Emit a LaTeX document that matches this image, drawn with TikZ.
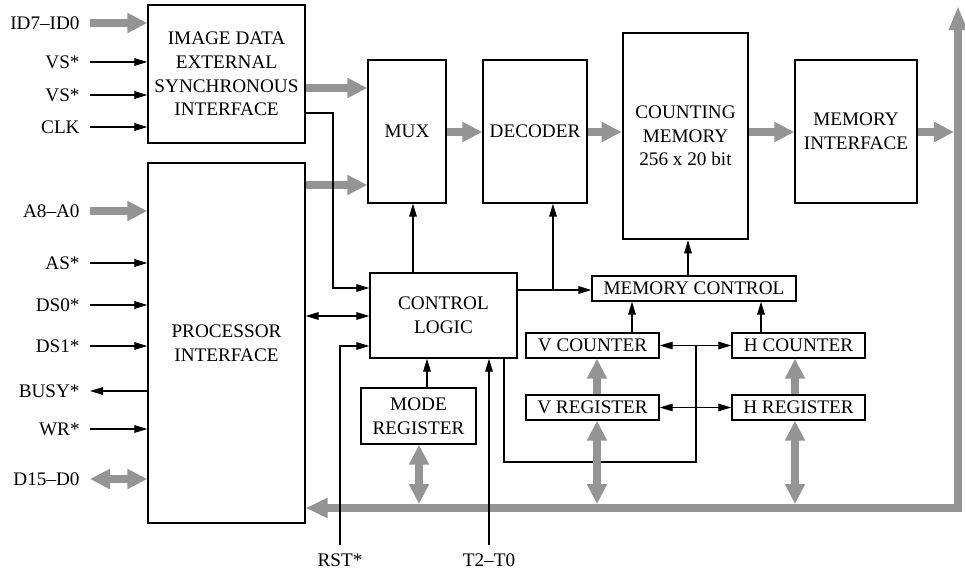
\documentclass[tikz,border=0pt]{standalone}
\usepackage{fontspec}
\setmainfont{Liberation Serif}
\usetikzlibrary{arrows.meta}
\definecolor{busgray}{gray}{0.58}
\begin{document}
\begin{tikzpicture}[x=0.5pt,y=-0.5pt,
  every node/.style={font=\fontsize{9.6}{11.8}\selectfont},
  blk/.style={draw, line width=0.7pt, inner sep=0pt, align=center},
  wire/.style={line width=0.6pt},
  arr/.style={wire,-{Triangle[length=6.5pt,width=3.8pt]}},
  darr/.style={wire,{Triangle[length=6.5pt,width=3.8pt]}-{Triangle[length=6.5pt,width=3.8pt]}},
  gbus/.style={draw=busgray, line width=4pt},
  garr/.style={gbus,-{Triangle[length=10pt,width=9.5pt]}},
  gdarr/.style={gbus,{Triangle[length=10pt,width=9.5pt]}-{Triangle[length=10pt,width=9.5pt]}},
  lbl/.style={anchor=east, inner sep=0pt},
  blbl/.style={anchor=north, inner sep=0pt},
]
\useasboundingbox (0,0) rectangle (965,578);

% blocks
\node[blk, minimum width=78.5pt, minimum height=69pt] (imgif) at (226.5,74) {IMAGE DATA\\EXTERNAL\\SYNCHRONOUS\\INTERFACE};
\node[blk, minimum width=78.5pt, minimum height=180pt] (procif) at (226.5,343) {PROCESSOR\\INTERFACE};
\node[blk, minimum width=39pt, minimum height=71.5pt] (mux) at (407,131.5) {MUX};
\node[blk, minimum width=52pt, minimum height=71.5pt] (dec) at (535,131.5) {DECODER};
\node[blk, line width=1.3pt, minimum width=62.5pt, minimum height=103pt] (cmem) at (685.5,136) {COUNTING\\MEMORY\\256 x 20 bit};
\node[blk, minimum width=61pt, minimum height=71.5pt] (memif) at (856,131.5) {MEMORY\\INTERFACE};
\node[blk, minimum width=73.5pt, minimum height=42.5pt] (ctrl) at (443.5,315.5) {CONTROL\\LOGIC};
\node[blk, minimum width=57.5pt, minimum height=28pt] (mode) at (418.5,416) {MODE\\REGISTER};
\node[blk, minimum width=102pt, minimum height=12.5pt] (memctl) at (694,288.5) {MEMORY CONTROL};
\node[blk, minimum width=66.5pt, minimum height=12.5pt] (vcnt) at (592.5,345.5) {V COUNTER};
\node[blk, minimum width=66.5pt, minimum height=12.5pt] (vreg) at (592.5,407.5) {V REGISTER};
\node[blk, minimum width=66.5pt, minimum height=12.5pt] (hcnt) at (798.5,345.5) {H COUNTER};
\node[blk, minimum width=66.5pt, minimum height=12.5pt] (hreg) at (798.5,407.5) {H REGISTER};

% helper coordinates
\coordinate (y88) at (0,88);
\coordinate (y113) at (0,113);
\coordinate (y132) at (0,132);
\coordinate (y185) at (0,185);
\coordinate (y288) at (0,288);
\coordinate (y290) at (0,290);
\coordinate (y316) at (0,316);
\coordinate (y346) at (0,346);
\coordinate (y462) at (0,462);
\coordinate (ybt) at (0,504);
\coordinate (x333) at (333,0);
\coordinate (x413) at (413,0);
\coordinate (x419) at (419,0);
\coordinate (x427) at (427,0);
\coordinate (x504) at (504,0);
\coordinate (x553) at (553,0);
\coordinate (xv) at (597,0);
\coordinate (x632) at (632,0);
\coordinate (x688) at (688,0);
\coordinate (x696) at (696,0);
\coordinate (x761) at (761,0);
\coordinate (xh) at (795,0);
\coordinate (x954) at (954,0);
\coordinate (bt) at (958,6);
\coordinate (bc) at (958,508);

% left labels
\node[lbl] (id) at (80,23) {ID7–ID0};
\node[lbl] (vs1) at (80,62) {VS*};
\node[lbl] (vs2) at (80,95) {VS*};
\node[lbl] (clk) at (80,127) {CLK};
\node[lbl] (addr) at (80,211) {A8–A0};
\node[lbl] (as) at (80,263) {AS*};
\node[lbl] (ds0) at (80,305) {DS0*};
\node[lbl] (ds1) at (80,346) {DS1*};
\node[lbl] (busy) at (80,391) {BUSY*};
\node[lbl] (wr) at (80,429) {WR*};
\node[lbl] (dat) at (80,479) {D15–D0};
\node[blbl] (rst) at (340,553) {RST*};
\node[blbl] (tt) at (489,553) {T2–T0};

% bus
\draw[gbus, line join=miter, {Triangle[length=11pt,width=9.5pt]}-{Triangle[length=12pt,width=8.5pt]}] (procif.east |- bc) -- (bc) -- (bt);

% left signals
\draw[garr] ([xshift=5pt]id.east) -- (id.east -| imgif.west);
\draw[arr] ([xshift=5pt]vs1.east) -- (vs1.east -| imgif.west);
\draw[arr] ([xshift=5pt]vs2.east) -- (vs2.east -| imgif.west);
\draw[arr] ([xshift=5pt]clk.east) -- (clk.east -| imgif.west);
\draw[garr] ([xshift=5pt]addr.east) -- (addr.east -| procif.west);
\draw[arr] ([xshift=5pt]as.east) -- (as.east -| procif.west);
\draw[arr] ([xshift=5pt]ds0.east) -- (ds0.east -| procif.west);
\draw[arr] ([xshift=5pt]ds1.east) -- (ds1.east -| procif.west);
\draw[arr] (busy.east -| procif.west) -- ([xshift=5pt]busy.east);
\draw[arr] ([xshift=5pt]wr.east) -- (wr.east -| procif.west);
\draw[gdarr] ([xshift=5pt]dat.east) -- (dat.east -| procif.west);

% data path
\draw[garr] (imgif.east |- y88) -- (mux.west |- y88);
\draw[garr] (procif.east |- y185) -- (mux.west |- y185);
\draw[garr] (mux.east |- y132) -- (dec.west |- y132);
\draw[garr] (dec.east |- y132) -- (cmem.west |- y132);
\draw[garr] (cmem.east |- y132) -- (memif.west |- y132);
\draw[garr] (memif.east |- y132) -- (x954 |- y132);

% control wires
\draw[arr] (imgif.east |- y113) -- (x333 |- y113) -- (x333 |- y288) -- (ctrl.west |- y288);
\draw[darr] (procif.east |- y316) -- (ctrl.west |- y316);
\draw[arr] ([yshift=4pt]rst.north) |- (ctrl.west |- y346);
\draw[arr] ([yshift=4pt]tt.north) -- (tt.north |- ctrl.south);
\draw[arr] (ctrl.north -| x413) -- (mux.south -| x413);
\draw[arr] (ctrl.east |- y290) -- (memctl.west |- y290);
\draw[arr] (x553 |- y290) -- (dec.south -| x553);
\draw[arr] (mode.north -| x427) -- (ctrl.south -| x427);
\draw[arr] (memctl.north -| x688) -- (cmem.south -| x688);
\draw[arr] (vcnt.north -| x632) -- (memctl.south -| x632);
\draw[arr] (hcnt.north -| x761) -- (memctl.south -| x761);
\draw[wire] (ctrl.south -| x504) |- (x696 |- y462) -- (x696 |- vcnt.east);
\draw[darr] (vcnt.east) -- (hcnt.west);
\draw[darr] (vreg.east) -- (hreg.west);

% register gray arrows
\draw[garr] (vreg.north -| xv) -- (vcnt.south -| xv);
\draw[garr] (hreg.north -| xh) -- (hcnt.south -| xh);
\draw[gdarr] (vreg.south -| xv) -- (xv |- ybt);
\draw[gdarr] (hreg.south -| xh) -- (xh |- ybt);
\draw[gdarr] (mode.south -| x419) -- (x419 |- ybt);
\end{tikzpicture}
\end{document}
